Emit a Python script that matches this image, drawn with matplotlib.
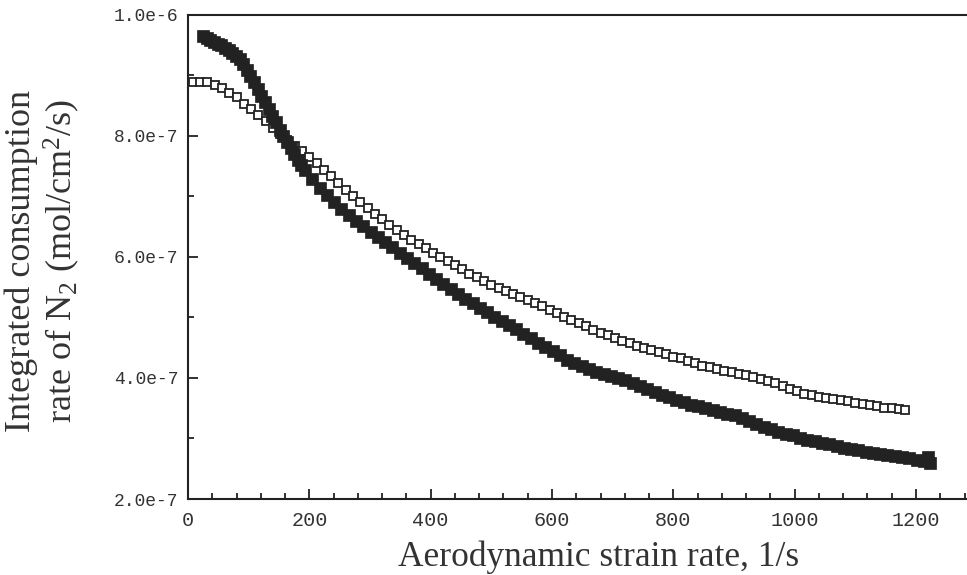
import matplotlib
matplotlib.use("Agg")
import matplotlib.pyplot as plt
from matplotlib.ticker import FixedLocator, MultipleLocator

# ---------------- data (values in 1e-7 mol/cm^2/s) ----------------
filled_x = [25, 31, 37, 43, 49, 55, 61, 67, 73, 79, 85, 91, 97, 103, 109, 115, 121,
            127, 133, 139, 145, 151, 157, 163, 169, 175, 181, 187, 193, 205,
            217, 229, 241, 253, 265, 277, 289, 301, 313, 325, 337, 349, 361, 373,
            385, 397, 409, 421, 433, 445, 457, 469, 481, 493, 505, 517, 529, 541,
            553, 565, 577, 589, 601, 613, 625, 637, 649, 661, 673, 685, 697, 709,
            721, 733, 745, 757, 769, 781, 793, 805, 817, 829, 841, 853, 865, 877,
            889, 901, 913, 925, 937, 949, 961, 973, 985, 997, 1009, 1021, 1033,
            1045, 1057, 1069, 1081, 1093, 1105, 1117, 1129, 1141, 1153, 1165, 1177,
            1189, 1201, 1213, 1220, 1223]
filled_y = [9.64, 9.61, 9.58, 9.55, 9.52, 9.49, 9.45, 9.41, 9.37, 9.32, 9.26, 9.18,
            9.09, 8.99, 8.88, 8.77, 8.66, 8.55, 8.44, 8.33, 8.22, 8.10, 7.99, 7.89,
            7.79, 7.69, 7.60, 7.52, 7.44, 7.28,
            7.13, 7.02, 6.90, 6.79, 6.69, 6.59, 6.50, 6.41,
            6.33, 6.24, 6.16, 6.07, 5.98, 5.90, 5.81, 5.72, 5.64, 5.55, 5.47, 5.39,
            5.31, 5.23, 5.16, 5.09, 5.01, 4.94, 4.87, 4.80, 4.73, 4.66, 4.58, 4.51,
            4.44, 4.37, 4.30, 4.25, 4.20, 4.15, 4.10, 4.06, 4.03, 3.99, 3.96, 3.92,
            3.87, 3.82, 3.77, 3.72, 3.68, 3.64, 3.60, 3.56, 3.53, 3.50, 3.47, 3.44,
            3.41, 3.38, 3.33, 3.28, 3.24, 3.19, 3.15, 3.11, 3.08, 3.05, 3.01, 2.98,
            2.95, 2.93, 2.90, 2.87, 2.85, 2.83, 2.81, 2.78, 2.76, 2.74, 2.73, 2.71,
            2.69, 2.67, 2.65, 2.63, 2.69, 2.59]

open_x = [8, 20, 32, 44, 56, 68, 80, 92, 104, 116, 128, 140, 152, 164, 176, 188,
          200, 212, 224, 236, 248, 260, 272, 284, 296, 308, 320, 332, 344, 356, 368,
          380, 392, 404, 416, 428, 440, 452, 464, 476, 488, 500, 512, 524, 536, 548,
          560, 572, 584, 596, 608, 620, 632, 644, 656, 668, 680, 692, 704, 716, 728,
          740, 752, 764, 776, 788, 800, 812, 824, 836, 848, 860, 872, 884, 896, 908,
          920, 932, 944, 956, 968, 980, 992, 1004, 1016, 1028, 1040, 1052, 1064,
          1076, 1088, 1100, 1112, 1124, 1136, 1148, 1160, 1172, 1182]
open_y = [8.89, 8.89, 8.88, 8.83, 8.78, 8.71, 8.63, 8.53, 8.44, 8.34, 8.24, 8.13,
          8.03, 7.92, 7.83, 7.74, 7.64, 7.54, 7.43, 7.33, 7.22, 7.11, 7.01, 6.90,
          6.80, 6.71, 6.62, 6.53, 6.44, 6.36, 6.28, 6.21, 6.14, 6.07, 6.00, 5.93,
          5.86, 5.79, 5.72, 5.66, 5.60, 5.54, 5.48, 5.43, 5.39, 5.34, 5.29, 5.24,
          5.18, 5.12, 5.07, 5.01, 4.96, 4.91, 4.85, 4.79, 4.74, 4.70, 4.66, 4.61,
          4.57, 4.53, 4.50, 4.46, 4.43, 4.39, 4.35, 4.32, 4.28, 4.24, 4.20, 4.18,
          4.15, 4.12, 4.09, 4.07, 4.04, 4.01, 3.98, 3.95, 3.91, 3.87, 3.82, 3.78,
          3.74, 3.71, 3.69, 3.67, 3.65, 3.63, 3.61, 3.59, 3.57, 3.55, 3.53, 3.51,
          3.50, 3.48, 3.47]

x_ticks = [0, 200, 400, 600, 800, 1000, 1200]
x_tick_labels = ["0", "200", "400", "600", "800", "1000", "1200"]
y_ticks = [2e-7, 4e-7, 6e-7, 8e-7, 1e-6]
y_tick_labels = ["2.0e-7", "4.0e-7", "6.0e-7", "8.0e-7", "1.0e-6"]

x_label = "Aerodynamic strain rate, 1/s"
y_label = "Integrated consumption\nrate of N$_2$ (mol/cm$^2$/s)"

# ---------------- figure ----------------
plt.rcParams["mathtext.fontset"] = "custom"
plt.rcParams["mathtext.rm"] = "Liberation Serif"
plt.rcParams["mathtext.default"] = "rm"

W, H = 967, 575
fig = plt.figure(figsize=(W / 100, H / 100), dpi=100)
left_px, right_px, top_px, bot_px = 188, 967, 14.5, 499
ax = fig.add_axes([left_px / W, 1 - bot_px / H,
                   (right_px - left_px) / W, (bot_px - top_px) / H])

ink = "#222222"
ax.plot(open_x, [v * 1e-7 for v in open_y], linestyle="none", marker="s",
        markersize=6.4, markerfacecolor="white", markeredgecolor=ink,
        markeredgewidth=1.3, zorder=3)
ax.plot(filled_x, [v * 1e-7 for v in filled_y], linestyle="none", marker="s",
        markersize=8.0, markerfacecolor=ink, markeredgecolor=ink,
        markeredgewidth=0.5, zorder=4)

ax.set_xlim(0, (right_px - left_px) / ((916 - 188) / 1200))
ax.set_ylim(2e-7, 1e-6)

ax.xaxis.set_major_locator(FixedLocator(x_ticks))
ax.set_xticklabels(x_tick_labels)
ax.xaxis.set_minor_locator(MultipleLocator(40))
ax.yaxis.set_major_locator(FixedLocator(y_ticks))
ax.set_yticklabels(y_tick_labels)
ax.yaxis.set_minor_locator(MultipleLocator(1e-7))

for s in ["left", "bottom", "top"]:
    ax.spines[s].set_linewidth(1.5)
    ax.spines[s].set_color(ink)
ax.spines["right"].set_visible(False)

ax.tick_params(which="both", direction="in", color=ink, width=1.3,
               top=False, right=False)
ax.tick_params(which="major", length=7)
ax.tick_params(which="minor", length=4.5)
ax.tick_params(axis="y", which="major", pad=7)
ax.tick_params(axis="x", which="major", pad=9)
for lab in ax.get_yticklabels():
    lab.set_fontfamily("Liberation Mono")
    lab.set_fontsize(13)
    lab.set_color("#333333")
for lab in ax.get_xticklabels():
    lab.set_fontfamily("Liberation Mono")
    lab.set_fontsize(14.5)
    lab.set_color("#333333")

fig.text(599 / W, 1 - 557 / H, x_label, ha="center", va="center",
         fontfamily="Liberation Serif", fontsize=25.5, color="#333333")
fig.text(43 / W, 1 - 261 / H, y_label, ha="center", va="center", rotation=90,
         multialignment="center", linespacing=1.1,
         fontfamily="Liberation Serif", fontsize=26, color="#333333")

fig.savefig("out.png", dpi=100)
